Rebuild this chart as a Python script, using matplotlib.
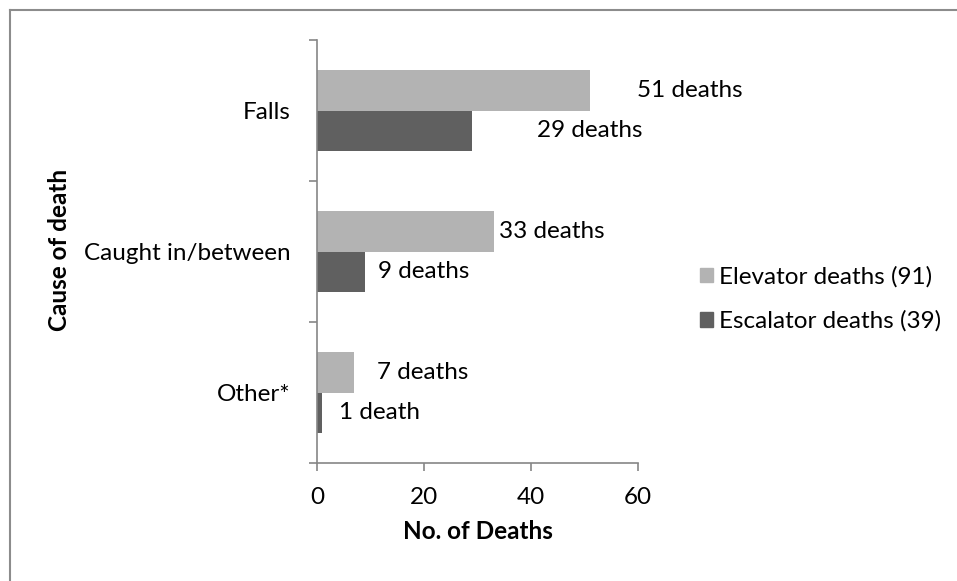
import matplotlib
matplotlib.use("Agg")
from matplotlib import pyplot as plt
from matplotlib.lines import Line2D
from matplotlib.patches import Patch
import numpy as np

plt.rcParams['font.family'] = ['Lato', 'DejaVu Sans']

# data
causes = ["Falls", "Caught in/between", "Other*"]
elevator = [51, 33, 7]
escalator = [29, 9, 1]
elevator_labels = ["51 deaths", "33 deaths", "7 deaths"]
escalator_labels = ["29 deaths", "9 deaths", "1 death"]
series_names = ["Elevator deaths (91)", "Escalator deaths (39)"]
x_ticks = [0, 20, 40, 60]

# label gaps (points) to the right of each bar end, as in the original
elev_gap = [34, 4, 16]
esc_gap = [47, 9, 12]

c_elev = "#b3b3b3"
c_esc = "#606060"
c_axis = "#868686"
fs = 17.5

fig = plt.figure(figsize=(9.57, 5.81), dpi=100)
ax = fig.add_axes([317 / 957, 1 - 463 / 581, 321 / 957, 423 / 581])

y = np.arange(len(causes))
h = 0.2837
ax.barh(y - h / 2, elevator, height=h, color=c_elev, label=series_names[0])
ax.barh(y + h / 2, escalator, height=h, color=c_esc, label=series_names[1])

for i in range(len(causes)):
    ax.annotate(elevator_labels[i], (elevator[i], y[i] - h / 2), xytext=(elev_gap[i], 0),
                textcoords="offset points", va="center", ha="left", fontsize=fs)
    ax.annotate(escalator_labels[i], (escalator[i], y[i] + h / 2), xytext=(esc_gap[i], 0),
                textcoords="offset points", va="center", ha="left", fontsize=fs)

ax.set_xlim(0, 60)
ax.set_ylim(2.5, -0.5)
ax.set_xticks(x_ticks)
ax.set_xticklabels([str(t) for t in x_ticks], fontsize=fs)
ax.set_yticks([-0.5, 0.5, 1.5, 2.5])
ax.set_yticklabels([])
ax.set_yticks(y, minor=True)
ax.set_yticklabels(causes, minor=True, fontsize=fs)
ax.tick_params(axis="y", which="minor", length=0, pad=19)
ax.tick_params(axis="y", which="major", length=6, width=1.2, color=c_axis)
ax.tick_params(axis="x", length=6, width=1.2, color=c_axis, pad=11)

for s in ["top", "right"]:
    ax.spines[s].set_visible(False)
for s in ["left", "bottom"]:
    ax.spines[s].set_color(c_axis)
    ax.spines[s].set_linewidth(1.2)

ax.set_xlabel("No. of Deaths", fontsize=fs, fontweight="bold", labelpad=9)
fig.text(60 / 957, 1 - 250 / 581, "Cause of death", rotation=90, fontsize=fs,
         fontweight="bold", ha="center", va="center")

handles = [Patch(color=c_elev), Patch(color=c_esc)]
fig.legend(handles, series_names, loc="center left",
           bbox_to_anchor=(690 / 957, 1 - 299 / 581), frameon=False, fontsize=fs,
           handlelength=0.55, handleheight=0.55, handletextpad=0.25, labelspacing=0.95,
           borderaxespad=0)

# outer chart border (only left and top edges are visible)
fig.add_artist(Line2D([9.5 / 957, 9.5 / 957], [0, 1 - 10 / 581], color="#8c8c8c", lw=1.5))
fig.add_artist(Line2D([9.5 / 957, 1], [1 - 10 / 581, 1 - 10 / 581], color="#8c8c8c", lw=1.5))

fig.savefig("out.png", dpi=100)
